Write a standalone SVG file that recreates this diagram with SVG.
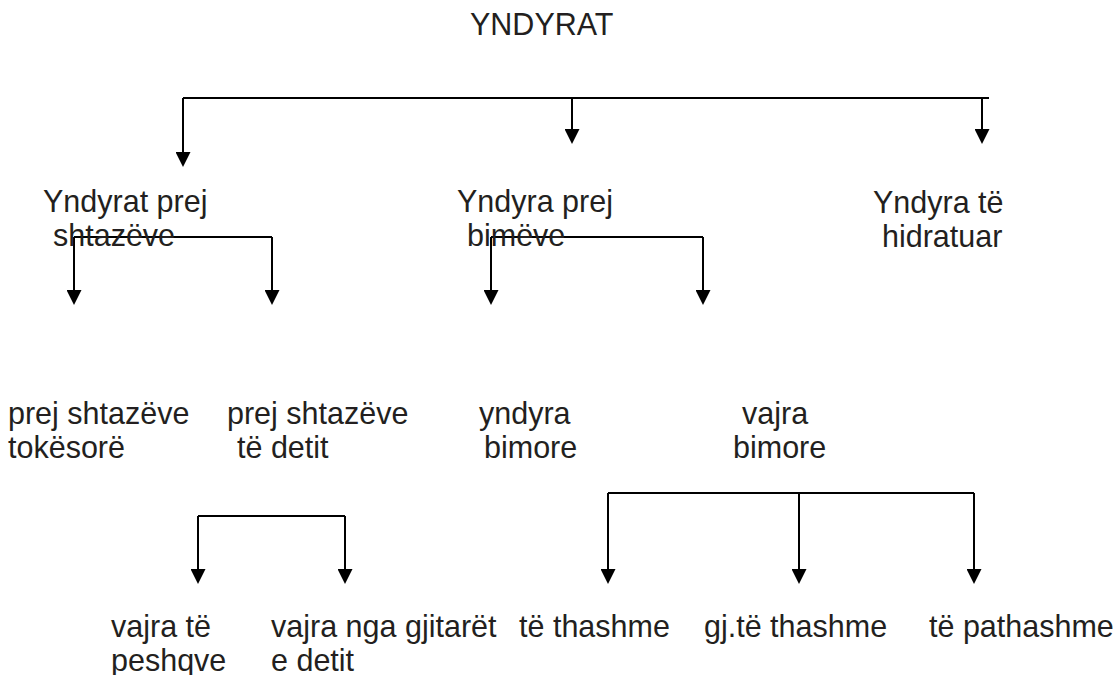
<svg xmlns="http://www.w3.org/2000/svg" width="1120" height="675" viewBox="0 0 1120 675">
<style>
text { font-family: "Liberation Sans", Arial, sans-serif; font-size: 30.5px; fill: #231f20; }
.c { fill: none; stroke: #000; stroke-width: 2; }
</style>
<defs>
<marker id="ah" viewBox="0 0 15 15" refX="7" refY="7.5" markerWidth="15" markerHeight="15" markerUnits="userSpaceOnUse" orient="auto">
<path d="M0,0 L15,7.5 L0,15 z" fill="#000"/>
</marker>
</defs>
<rect width="1120" height="675" fill="#fff"/>
<g id="connectors">
<path class="c" d="M183,98 H989"/>
<path class="c" d="M183,98 V159" marker-end="url(#ah)"/>
<path class="c" d="M572,98 V136" marker-end="url(#ah)"/>
<path class="c" d="M982,98 V136" marker-end="url(#ah)"/>
<path class="c" d="M74,237 H272"/>
<path class="c" d="M74,237 V297" marker-end="url(#ah)"/>
<path class="c" d="M272,237 V297" marker-end="url(#ah)"/>
<path class="c" d="M491,237 H703"/>
<path class="c" d="M491,237 V297" marker-end="url(#ah)"/>
<path class="c" d="M703,237 V297" marker-end="url(#ah)"/>
<path class="c" d="M198,516 H345"/>
<path class="c" d="M198,516 V576" marker-end="url(#ah)"/>
<path class="c" d="M345,516 V576" marker-end="url(#ah)"/>
<path class="c" d="M608,493 H974"/>
<path class="c" d="M608,493 V576" marker-end="url(#ah)"/>
<path class="c" d="M799,493 V576" marker-end="url(#ah)"/>
<path class="c" d="M974,493 V576" marker-end="url(#ah)"/>
</g>
<g id="n-root"><text x="470" y="35">YNDYRAT</text></g>
<g id="n-shtazeve"><text x="43" y="212">Yndyrat prej</text><text x="53" y="246">shtazëve</text></g>
<g id="n-bimeve"><text x="457" y="212">Yndyra prej</text><text x="467" y="246">bimëve</text></g>
<g id="n-hidratuar"><text x="873" y="213">Yndyra të</text><text x="882" y="247">hidratuar</text></g>
<g id="n-tokesore"><text x="8" y="424">prej shtazëve</text><text x="8" y="458">tokësorë</text></g>
<g id="n-detit"><text x="227" y="424">prej shtazëve</text><text x="237" y="458">të detit</text></g>
<g id="n-yndyra-bimore"><text x="479" y="424">yndyra</text><text x="484" y="458">bimore</text></g>
<g id="n-vajra-bimore"><text x="742" y="424">vajra</text><text x="733" y="458">bimore</text></g>
<g id="n-peshqve"><text x="111" y="637">vajra të</text><text x="111" y="671">peshqve</text></g>
<g id="n-gjitaret"><text x="271" y="637">vajra nga gjitarët</text><text x="271" y="671">e detit</text></g>
<g id="n-thashme"><text x="519" y="637">të thashme</text></g>
<g id="n-gj-thashme"><text x="704" y="637">gj.të thashme</text></g>
<g id="n-pathashme"><text x="929" y="637">të pathashme</text></g>
</svg>
